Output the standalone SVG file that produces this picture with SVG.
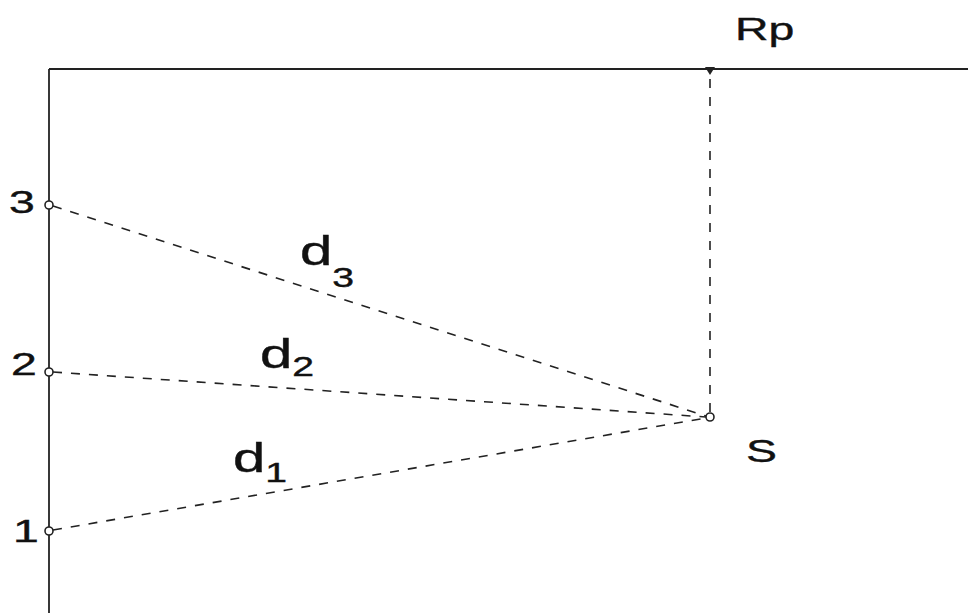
<svg xmlns="http://www.w3.org/2000/svg" width="968" height="613" viewBox="0 0 968 613">
<style>
.axis{stroke:#222;stroke-width:1.8;fill:none}
.dash{stroke:#222;stroke-width:1.6;fill:none;stroke-dasharray:9 9}
.pt{fill:#fff;stroke:#222;stroke-width:1.6}
.lbl{font-family:"Liberation Sans",Arial,sans-serif;font-size:32px;fill:#111;stroke:#111;stroke-width:0.4}
.dl{font-family:"Liberation Sans",Arial,sans-serif;font-size:40px;fill:#111;stroke:#111;stroke-width:0.4}
.sub{font-size:27px}
</style>
<defs>
<marker id="tri" viewBox="0 0 10 8" refX="5" refY="1" markerWidth="10" markerHeight="8" markerUnits="userSpaceOnUse" orient="0">
<path d="M0,0 L10,0 L5,8 Z" fill="#222"/>
</marker>
</defs>
<g id="frame">
<line class="axis" x1="49" y1="69" x2="968" y2="69"/>
<line class="axis" x1="49" y1="69" x2="49" y2="613"/>
</g>
<g id="connectors">
<line class="dash" x1="53" y1="206" x2="706" y2="416"/>
<line class="dash" x1="53" y1="372" x2="706" y2="417"/>
<line class="dash" x1="53" y1="530" x2="706" y2="418"/>
<line class="dash" x1="710" y1="412" x2="710" y2="68" marker-end="url(#tri)"/>
</g>
<g id="p3"><circle class="pt" cx="49" cy="205" r="4"/><text class="lbl" transform="translate(9,213) scale(1.45,1)">3</text></g>
<g id="p2"><circle class="pt" cx="49" cy="372" r="4"/><text class="lbl" transform="translate(11,375) scale(1.45,1)">2</text></g>
<g id="p1"><circle class="pt" cx="49" cy="531" r="4"/><text class="lbl" transform="translate(13,542) scale(1.45,1)">1</text></g>
<g id="S"><circle class="pt" cx="710" cy="417" r="4"/><text class="lbl" transform="translate(746,462) scale(1.45,1)">S</text></g>
<g id="Rp"><text class="lbl" transform="translate(735,40) scale(1.45,1)">Rp</text></g>
<g id="d3"><text class="dl" transform="translate(300,265) scale(1.45,1)">d<tspan class="sub" dy="22">3</tspan></text></g>
<g id="d2"><text class="dl" transform="translate(260,368) scale(1.45,1)">d<tspan class="sub" dy="8">2</tspan></text></g>
<g id="d1"><text class="dl" transform="translate(233,472) scale(1.45,1)">d<tspan class="sub" dy="10">1</tspan></text></g>
</svg>
